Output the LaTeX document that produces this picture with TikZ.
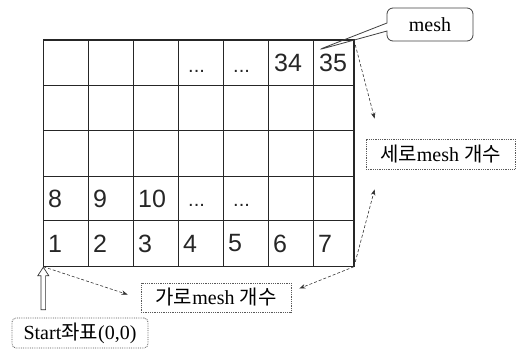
\documentclass[tikz,border=0pt]{standalone}
\usepackage{fontspec}
\setmainfont{Liberation Serif}
\newfontfamily\kofont{Noto Sans CJK KR}
\newfontfamily\numfont{Liberation Sans}
\usetikzlibrary{arrows.meta,shapes.callouts,calc}
\begin{document}
\begin{tikzpicture}[x=1pt,y=-1pt,
  gridline/.style={line width=1.1pt, black!85},
  numlabel/.style={font=\numfont\fontsize{25}{25}\selectfont, inner sep=0pt, anchor=west, black!85},
  dotlabel/.style={font=\numfont\fontsize{20}{20}\selectfont, inner sep=0pt, anchor=base west, black!85},
  labelbox/.style={draw=black!65, densely dotted, line width=0.8pt, inner sep=0pt, font=\fontsize{20}{20}\selectfont},
  conn/.style={black!80, line width=0.6pt, densely dashed, -{Stealth[length=6pt,width=4.5pt]}},
]
\useasboundingbox (0,0) rectangle (519,351);
% grid corners
\coordinate (g-tl) at (43.3,40);
\coordinate (g-tr) at (354,40);
\coordinate (g-bl) at (43.3,266.7);
\coordinate (g-br) at (354,266.7);
% grid
\foreach \x in {88.3,133.3,178.3,223.3,268.3,313.3}
  \draw[gridline] (\x,40) -- (\x,266.7);
\foreach \y in {85.7,130.7,176.7,220.7}
  \draw[gridline] (43.3,\y) -- (354,\y);
\draw[gridline, line width=1.5pt] (g-tl) rectangle (g-br);
% numbers, row 5
\foreach \n/\x in {1/48,2/93,3/138,4/183,5/228,6/273,7/318}
  \node[numlabel] (n\n) at (\x,243.5) {\n};
% row 4
\foreach \n/\x in {8/48,9/93,10/138}
  \node[numlabel] (n\n) at (\x,198.5) {\n};
\node[dotlabel] (d4a) at (188,206) {...};
\node[dotlabel] (d4b) at (233,206) {...};
% row 1
\node[dotlabel] (d1a) at (188,72) {...};
\node[dotlabel] (d1b) at (233,72) {...};
\node[numlabel] (n34) at (274,63) {34};
\node[numlabel] (n35) at (319,63) {35};
% labels
\coordinate (meshtip) at (318,50);
\node[rectangle callout, draw=black!75, line width=0.8pt, rounded corners=6pt,
      minimum width=86pt, minimum height=33pt, inner sep=0pt,
      callout absolute pointer={(meshtip)}, callout pointer width=8pt,
      font=\fontsize{20}{20}\selectfont] (mesh) at (430,24.5) {mesh};
\node[labelbox, minimum width=149pt, minimum height=30pt] (sero) at (440.5,154)
  {{\kofont 세로}mesh {\kofont 개수}};
\node[labelbox, minimum width=150pt, minimum height=29pt] (garo) at (216,297.5)
  {{\kofont 가로}mesh {\kofont 개수}};
\node[labelbox, rounded corners=4pt, minimum width=136pt, minimum height=30pt] (start) at (80,333)
  {Start{\kofont 좌표}(0,0)};
% connector ends
\coordinate (seroTop) at ($(sero.north west)+(9,-20)$);
\coordinate (seroBot) at ($(sero.south west)+(9,20)$);
\coordinate (garoL) at ($(garo.west)+(-13,-3)$);
\coordinate (garoR) at ($(garo.east)+(8,-9)$);
\draw[conn] (g-tr) -- (seroTop);
\draw[conn] (g-br) -- (seroBot);
\draw[conn] (g-bl) -- (garoL);
\draw[conn] (g-br) -- (garoR);
% hollow up arrow from start box to origin
\draw[black!80, line width=0.7pt, fill=white, line join=miter]
  ($(g-bl)+(-2.3,43)$) -- ($(g-bl)+(-2.3,9)$) -- ($(g-bl)+(-5.5,9)$) -- ($(g-bl)+(0,0.5)$)
  -- ($(g-bl)+(5.5,9)$) -- ($(g-bl)+(2.3,9)$) -- ($(g-bl)+(2.3,43)$) -- cycle;
\end{tikzpicture}
\end{document}
